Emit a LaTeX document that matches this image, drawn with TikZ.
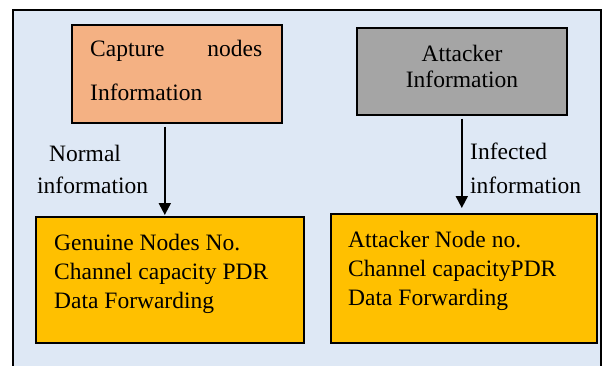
\documentclass[tikz,border=0pt]{standalone}
\usepackage{fontspec}
\setmainfont{Liberation Serif}
\usetikzlibrary{arrows.meta}
\definecolor{bgblue}{HTML}{DEE8F5}
\definecolor{capsalmon}{HTML}{F4B183}
\definecolor{attgray}{HTML}{A5A5A5}
\definecolor{boxyellow}{HTML}{FFC000}
\begin{document}
\begin{tikzpicture}[x=1pt,y=-1pt,
  box/.style={draw=black, line width=1.6pt, anchor=north west, inner sep=0pt},
  txt/.style={font=\fontsize{23.5}{29}\selectfont, inner sep=0pt, anchor=base west, align=left},
  arr/.style={line width=2pt, -{Triangle[width=12pt,length=12pt]}}]
\useasboundingbox (0,0) rectangle (604,366);
\fill[bgblue] (12.5,10.5) rectangle (601,366);
\draw[line width=2pt] (12.5,366) -- (12.5,10.5) -- (601,10.5) -- (601,366);
% boxes
\node[box, fill=capsalmon, minimum width=210pt, minimum height=98pt] (cap) at (71,24) {};
\node[box, fill=attgray, minimum width=210pt, minimum height=87pt] (att) at (356,27) {};
\node[box, fill=boxyellow, minimum width=268pt, minimum height=126pt] (gen) at (35,216) {};
\node[box, fill=boxyellow, minimum width=266pt, minimum height=129pt] (atn) at (330,213) {};
% texts (base = last line baseline, except text width node = first line)
\node[txt, font=\fontsize{23.5}{44}\selectfont, text width=172pt] (captxt) at (90,57) {Capture\hskip 0pt plus 1fill nodes\\Information};
\node[txt, font=\fontsize{23.5}{26}\selectfont, anchor=base, align=center] (atttxt) at (462,88) {Attacker\\Information};
\node[txt] (gentxt) at (54,308) {Genuine Nodes No.\\Channel capacity PDR\\Data Forwarding};
\node[txt] (atntxt) at (348,305) {Attacker Node no.\\Channel capacityPDR\\Data Forwarding};
\node[txt, font=\fontsize{23.5}{32}\selectfont] (normlab) at (37,193) {\hspace*{12pt}Normal\\information};
\node[txt, font=\fontsize{23.5}{33}\selectfont] (inflab) at (470,193) {Infected\\information};
% connectors
\draw[arr, shorten <=3pt, shorten >=1pt] ([xshift=-12pt]cap.south) -- ([xshift=-12pt]cap.south |- gen.north);
\draw[arr, shorten <=3pt, shorten >=5pt] (att.south) -- (att.south |- atn.north);
\end{tikzpicture}
\end{document}
